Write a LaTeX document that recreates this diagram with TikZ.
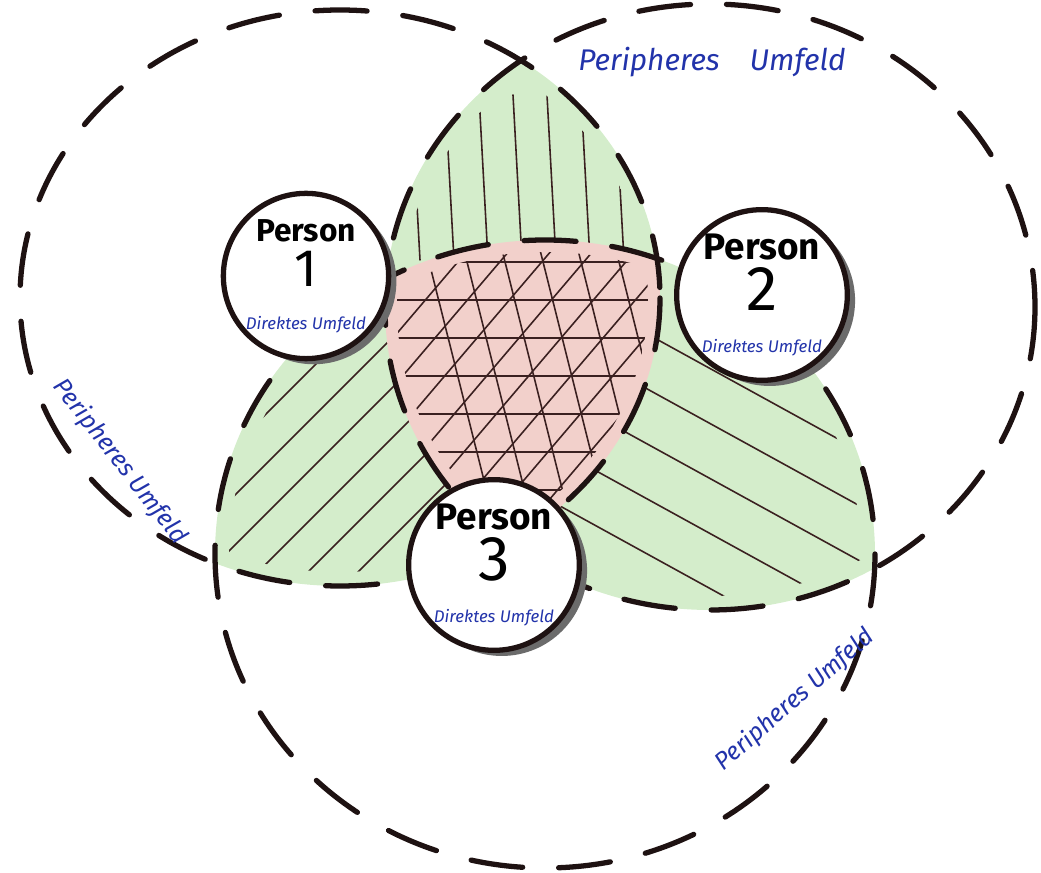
\documentclass[tikz,border=0pt]{standalone}
\usepackage{fontspec}
\setmainfont{Fira Sans}
\usepackage{tikz}
\usetikzlibrary{shapes,shadows,calc}
\definecolor{ink}{HTML}{1E1212}
\definecolor{schrift}{HTML}{2233AA}
\definecolor{lensgreen}{HTML}{D4EDCB}
\definecolor{corered}{HTML}{F2D0CB}
\definecolor{hatchbrown}{HTML}{3A2020}
\definecolor{shadowgray}{HTML}{6B6B6B}
% the three outer circles, #1 shrinks them
\newcommand{\kreisA}[1]{(340,298) ellipse [x radius=320-#1, y radius=288-#1]}
\newcommand{\kreisB}[1]{(710,307) ellipse [x radius=325-#1, y radius=303-#1]}
\newcommand{\kreisC}[1]{(545,554) ellipse [x radius=330-#1, y radius=314-#1]}
% #1 size of "Person", #2 size of the number, #3 the number
\newcommand{\personlabel}[3]{{\bfseries\fontsize{#1}{#1}\selectfont Person}\\[1pt]{\fontsize{#2}{#2}\selectfont #3}\\[0pt]{\color{schrift}\fontsize{4.8}{5}\selectfont\itshape Direktes Umfeld}}

\begin{document}
\begin{tikzpicture}[x=0.01cm, y=-0.01cm]
	\tikzstyle{lens} = [fill=lensgreen]
	\tikzstyle{core} = [fill=corered]
	\tikzstyle{hatch} = [draw=hatchbrown, line width=0.45pt, line cap=round]
	\tikzstyle{umfeldline} = [draw=ink, line width=1.5pt, line cap=round, dash pattern=on 0.52cm off 0.36cm]
	\tikzstyle{person} = [circle, draw=ink, line width=1.5pt, fill=white, align=center, inner sep=0pt, drop shadow={shadow xshift=2.2pt, shadow yshift=-1.6pt, fill=shadowgray, opacity=1}]
	\tikzstyle{umfeld} = [text=schrift, font=\fontsize{7}{8}\selectfont\itshape]
	\useasboundingbox (0,0) rectangle (1041,873);
	% green overlaps
	\begin{scope}
		\clip \kreisA{0};
		\fill[lens] \kreisB{0};
		\fill[lens] \kreisC{0};
	\end{scope}
	\begin{scope}
		\clip \kreisB{0};
		\fill[lens] \kreisC{0};
	\end{scope}
	% hatching of the green overlaps
	\begin{scope}
		\clip \kreisA{14};
		\clip \kreisB{14};
		\foreach \c in {405,439,...,610} \draw[hatch] (\c+6,95) -- (\c+15,260);
	\end{scope}
	\begin{scope}
		\clip \kreisA{14};
		\clip \kreisC{14};
		\foreach \c in {680,730,...,935} \draw[hatch] (\c-620,620) -- (\c-280,280);
	\end{scope}
	\begin{scope}
		\clip \kreisB{14};
		\clip \kreisC{14};
		\foreach \c in {-22,33,...,200} \draw[hatch] (560,\c+308) -- (920,\c+506);
	\end{scope}
	% red core
	\begin{scope}
		\clip \kreisA{0};
		\clip \kreisB{0};
		\fill[core] \kreisC{0};
	\end{scope}
	\begin{scope}
		\clip \kreisA{12};
		\clip \kreisB{12};
		\clip \kreisC{12};
		\foreach \y in {262,300,...,492} \draw[hatch] (380,\y) -- (670,\y);
		\foreach \c in {680,722,...,975} \draw[hatch] (\c-442,520) -- (\c-195,230);
		\foreach \c in {364,402,...,560} \draw[hatch] (\c+57,230) -- (\c+130,520);
	\end{scope}
	% dashed outer circles
	\draw[umfeldline] \kreisA{0};
	\draw[umfeldline] \kreisB{0};
	\draw[umfeldline] \kreisC{0};
	\node (person1)[person, minimum size=1.28cm] at (306,276) {\personlabel{9}{15}{1}};
	\node (person2)[person, minimum size=1.54cm] at (762,295) {\personlabel{10.5}{18}{2}};
	\node (person3)[person, minimum size=1.62cm] at (494,565) {\personlabel{10.5}{18}{3}};
	\node (peri1)[umfeld, font=\fontsize{8.5}{9}\selectfont\itshape] at (712,62) {Peripheres\quad Umfeld};
	\node (peri2)[umfeld, rotate=-52] at (120,462) {Peripheres Umfeld};
	\node (peri3)[umfeld, rotate=41] at (795,700) {Peripheres Umfeld};
\end{tikzpicture}
\end{document}
